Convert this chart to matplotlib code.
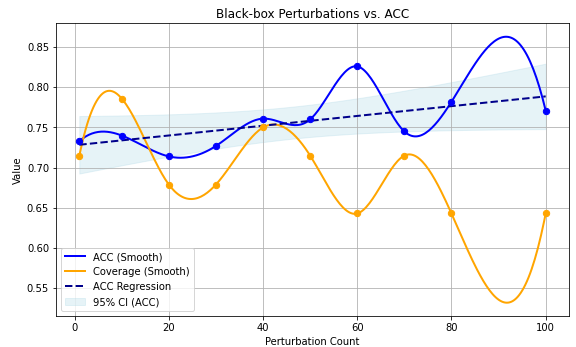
import numpy as np
import matplotlib
matplotlib.use("Agg")
import matplotlib.pyplot as plt

x = [1, 10, 20, 30, 40, 50, 60, 70, 80, 100]
acc = [0.733, 0.740, 0.714, 0.727, 0.761, 0.760, 0.826, 0.745, 0.782, 0.771]
coverage = [0.715, 0.786, 0.679, 0.679, 0.750, 0.715, 0.643, 0.715, 0.643, 0.643]
t_crit = 2.306  # t(0.975, df=8)


def notaknot_spline(xs, ys, xq):
    xs = np.asarray(xs, float)
    ys = np.asarray(ys, float)
    n = len(xs)
    m = n - 1
    A = np.zeros((4 * m, 4 * m))
    b = np.zeros(4 * m)
    r = 0
    for i in range(m):
        h = xs[i + 1] - xs[i]
        A[r, 4 * i] = 1; b[r] = ys[i]; r += 1
        A[r, 4 * i:4 * i + 4] = [1, h, h ** 2, h ** 3]; b[r] = ys[i + 1]; r += 1
    for i in range(m - 1):
        h = xs[i + 1] - xs[i]
        A[r, 4 * i:4 * i + 4] = [0, 1, 2 * h, 3 * h ** 2]
        A[r, 4 * (i + 1) + 1] = -1; r += 1
        A[r, 4 * i:4 * i + 4] = [0, 0, 2, 6 * h]
        A[r, 4 * (i + 1) + 2] = -2; r += 1
    A[r, 3] = 1; A[r, 7] = -1; r += 1
    A[r, 4 * (m - 2) + 3] = 1; A[r, 4 * (m - 1) + 3] = -1; r += 1
    coef = np.linalg.solve(A, b).reshape(m, 4)
    xq = np.asarray(xq, float)
    idx = np.clip(np.searchsorted(xs, xq, side="right") - 1, 0, m - 1)
    t = xq - xs[idx]
    c = coef[idx]
    return c[:, 0] + c[:, 1] * t + c[:, 2] * t ** 2 + c[:, 3] * t ** 3


xa = np.array(x, float)
ya = np.array(acc, float)
xs = np.linspace(xa.min(), xa.max(), 300)
acc_s = notaknot_spline(xa, ya, xs)
cov_s = notaknot_spline(xa, coverage, xs)

slope, intercept = np.polyfit(xa, ya, 1)
pred = intercept + slope * xs
resid = ya - (intercept + slope * xa)
n = len(xa)
s = np.sqrt(np.sum(resid ** 2) / (n - 2))
se = s * np.sqrt(1 / n + (xs - xa.mean()) ** 2 / np.sum((xa - xa.mean()) ** 2))
lo = pred - t_crit * se
hi = pred + t_crit * se

fig, ax = plt.subplots(figsize=(8, 4.82), dpi=72)
ax.plot(xs, acc_s, color="blue", lw=2, label="ACC (Smooth)")
ax.plot(xs, cov_s, color="orange", lw=2, label="Coverage (Smooth)")
ax.scatter(xa, ya, color="blue", s=40, zorder=3)
ax.scatter(xa, coverage, color="orange", s=40, zorder=3)
ax.plot(xs, pred, color="darkblue", ls="--", lw=2, label="ACC Regression")
ax.fill_between(xs, lo, hi, color="lightblue", alpha=0.3, label="95% CI (ACC)")
ax.set_title("Black-box Perturbations vs. ACC")
ax.set_xlabel("Perturbation Count")
ax.set_ylabel("Value")
ax.grid(True)
ax.legend(loc="lower left")
fig.subplots_adjust(left=56 / 576, right=569 / 576, top=1 - 23.5 / 347, bottom=1 - 316 / 347)
fig.savefig("out.png")
